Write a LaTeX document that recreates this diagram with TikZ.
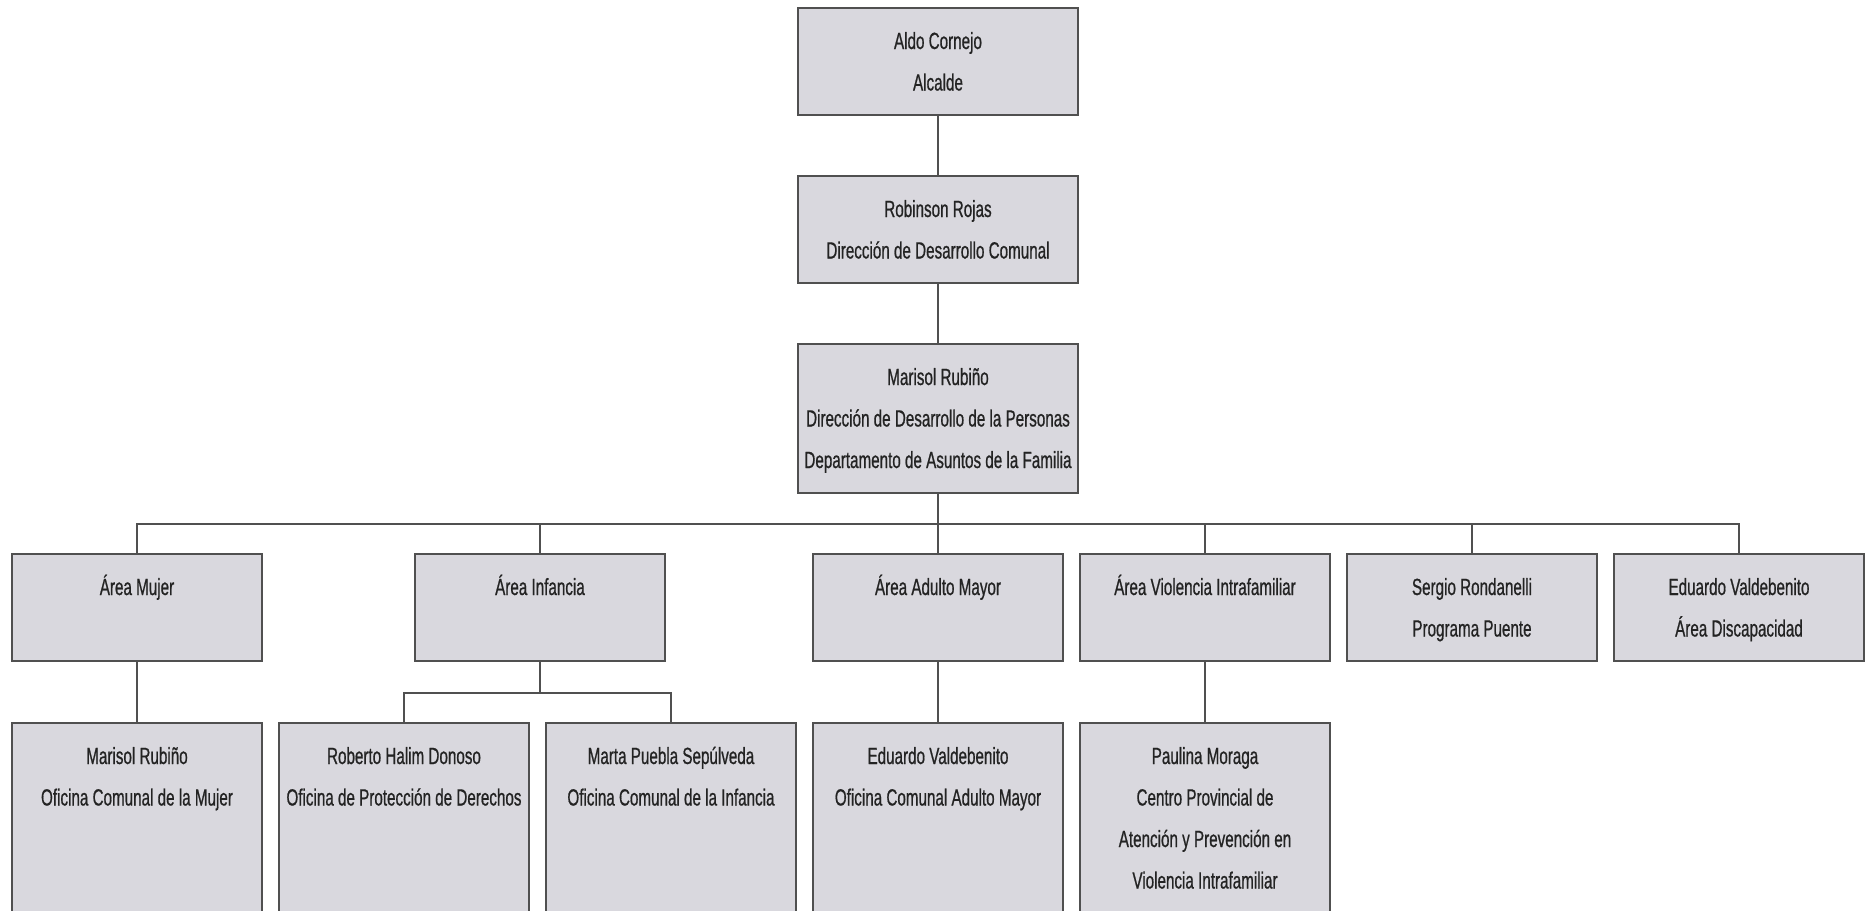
\documentclass[tikz,border=0pt]{standalone}
\usepackage{fontspec}
\setmainfont{Liberation Sans}[FakeStretch=0.65, FakeBold=0.7]
\definecolor{boxfill}{RGB}{217,216,222}
\definecolor{boxline}{RGB}{80,80,80}
\definecolor{inktext}{RGB}{35,35,35}
\begin{document}
\begin{tikzpicture}[x=0.5pt,y=-0.5pt,
	unit/.style={draw=boxline, line width=1pt, fill=boxfill, anchor=north,
		inner xsep=0pt, inner ysep=0pt, align=flush center, text width=125pt, text=inktext,
		font=\fontsize{11.7pt}{20.75pt}\selectfont, text height=20.5pt, text depth=#1},
	unit/.default=33pt,
	head/.style={unit=#1, text width=140pt},
	head/.default=33pt,
	link/.style={draw=boxline, line width=1pt}]
	\useasboundingbox (0,0) rectangle (1866,910);
	\clip (0,0) rectangle (1866,910);
	\fill [white] (0,0) rectangle (1866,910);

	\node [head] (alcalde) at (938,7) {Aldo Cornejo\\Alcalde};
	\node [head] (dideco) at (938,175) {Robinson Rojas\\Dirección de Desarrollo Comunal};
	\node [head=54pt] (familia) at (938,343) {Marisol Rubiño\\Dirección de Desarrollo de la Personas\\Departamento de Asuntos de la Familia};

	\node [unit] (mujer) at (137,553) {Área Mujer};
	\node [unit] (infancia) at (540,553) {Área Infancia};
	\node [unit] (adulto) at (938,553) {Área Adulto Mayor};
	\node [unit] (violencia) at (1205,553) {Área Violencia Intrafamiliar};
	\node [unit] (puente) at (1472,553) {Sergio Rondanelli\\Programa Puente};
	\node [unit] (discap) at (1739,553) {Eduardo Valdebenito\\Área Discapacidad};

	\node [unit=80pt] (ofmujer) at (137,722) {Marisol Rubiño\\Oficina Comunal de la Mujer};
	\node [unit=80pt] (opd) at (404,722) {Roberto Halim Donoso\\Oficina de Protección de Derechos};
	\node [unit=80pt] (ofinfancia) at (671,722) {Marta Puebla Sepúlveda\\Oficina Comunal de la Infancia};
	\node [unit=80pt] (ofadulto) at (938,722) {Eduardo Valdebenito\\Oficina Comunal Adulto Mayor};
	\node [unit=80pt] (centro) at (1205,722) {Paulina Moraga\\Centro Provincial de\\Atención y Prevención en\\Violencia Intrafamiliar};

	\draw [link] (alcalde.south) -- (dideco.north);
	\draw [link] (dideco.south) -- (familia.north);

	\path (familia.south) ++(0,30) coordinate (bus);
	\foreach \area in {mujer,infancia,adulto,violencia,puente,discap}
		\draw [link] (familia.south) -- (bus) -| (\area.north);

	\path (infancia.south) ++(0,31) coordinate (subbus);
	\foreach \ofi in {opd,ofinfancia}
		\draw [link] (infancia.south) -- (subbus) -| (\ofi.north);

	\draw [link] (mujer.south) -- (ofmujer.north);
	\draw [link] (adulto.south) -- (ofadulto.north);
	\draw [link] (violencia.south) -- (centro.north);
\end{tikzpicture}
\end{document}
